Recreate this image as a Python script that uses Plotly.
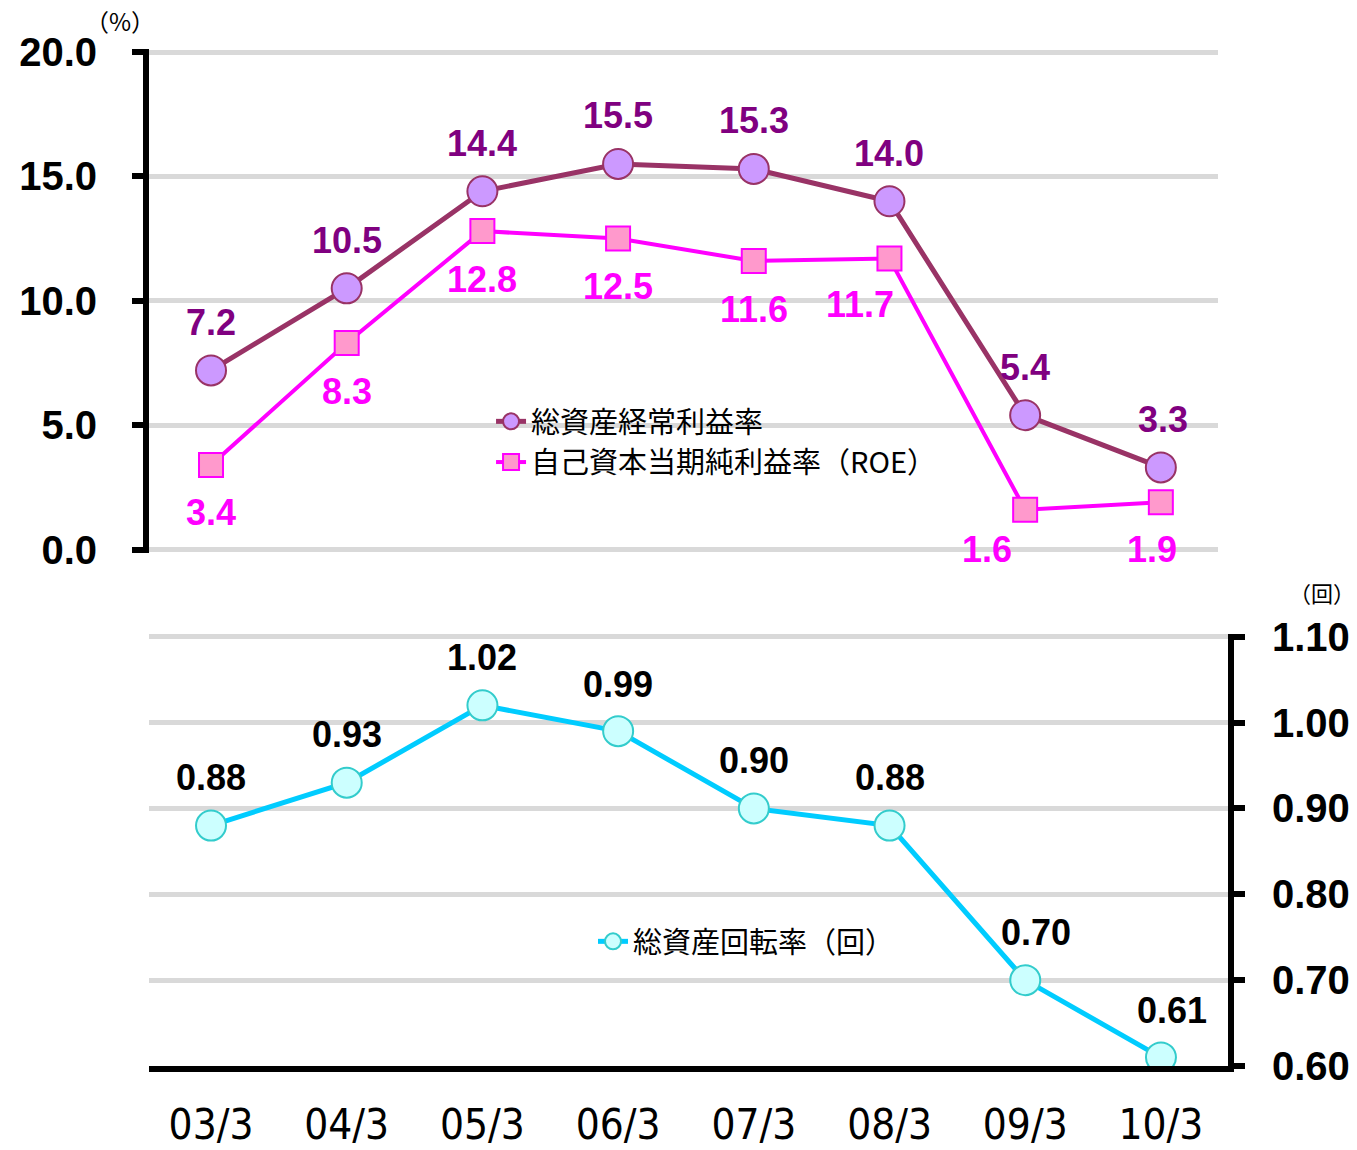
import plotly.graph_objects as go

categories = ["03/3", "04/3", "05/3", "06/3", "07/3", "08/3", "09/3", "10/3"]
roa = [7.2, 10.5, 14.4, 15.5, 15.3, 14.0, 5.4, 3.3]
roe = [3.4, 8.3, 12.8, 12.5, 11.6, 11.7, 1.6, 1.9]
turnover = [0.88, 0.93, 1.02, 0.99, 0.90, 0.88, 0.70, 0.61]
top_ticks = [0, 5, 10, 15, 20]
bottom_ticks = [0.6, 0.7, 0.8, 0.9, 1.0, 1.1]

name_roa = "総資産経常利益率"
name_roe = "自己資本当期純利益率（ROE）"
name_turn = "総資産回転率（回）"

# label offsets (styling)
roa_dx = [0, 0, 0, 0, 0, 0, 0, 2]
roa_dy = [48] * 8
roe_dx = [0, 0, 0, 0, 0, -29, -38, -9]
roe_dy = [-48, -48, -48, -48, -49, -46, -40, -47]
turn_dx = [0, 0, 0, 0, 0, 0, 11, 11]
turn_dy = [48, 48, 48, 47, 48, 48, 48, 47]

NUM = "Arial, 'Liberation Sans', sans-serif"
CJK = "'Noto Sans CJK JP', sans-serif"

fig = go.Figure()
fig.add_trace(go.Scatter(
    x=categories, y=roa, name=name_roa, mode="lines+markers",
    line=dict(color="#993366", width=5),
    marker=dict(symbol="circle", size=30, color="#cc99ff", line=dict(color="#993366", width=2)),
    xaxis="x", yaxis="y", legend="legend"))
fig.add_trace(go.Scatter(
    x=categories, y=roe, name=name_roe, mode="lines+markers",
    line=dict(color="#ff00ff", width=4),
    marker=dict(symbol="square", size=24, color="#ff99cc", line=dict(color="#ff00ff", width=2)),
    xaxis="x", yaxis="y", legend="legend"))
fig.add_trace(go.Scatter(
    x=categories, y=turnover, name=name_turn, mode="lines+markers",
    line=dict(color="#00ccff", width=5),
    marker=dict(symbol="circle", size=30, color="#ccffff", line=dict(color="#33cccc", width=2)),
    xaxis="x2", yaxis="y2", legend="legend2"))

annotations = []
for c, v, dx, dy in zip(categories, roa, roa_dx, roa_dy):
    annotations.append(dict(x=c, y=v, xref="x", yref="y", text=f"<b>{v:.1f}</b>", showarrow=False,
                            xshift=dx, yshift=dy, font=dict(family=NUM, size=36, color="#800080")))
for c, v, dx, dy in zip(categories, roe, roe_dx, roe_dy):
    annotations.append(dict(x=c, y=v, xref="x", yref="y", text=f"<b>{v:.1f}</b>", showarrow=False,
                            xshift=dx, yshift=dy, font=dict(family=NUM, size=36, color="#ff00ff")))
for c, v, dx, dy in zip(categories, turnover, turn_dx, turn_dy):
    annotations.append(dict(x=c, y=v, xref="x2", yref="y2", text=f"<b>{v:.2f}</b>", showarrow=False,
                            xshift=dx, yshift=dy, font=dict(family=NUM, size=36, color="black")))
annotations.append(dict(x=-0.0269, y=1.0285, xref="paper", yref="paper", text="（%）", showarrow=False,
                        xanchor="center", yanchor="middle",
                        font=dict(family=CJK, size=24, color="black")))
annotations.append(dict(x=1.0871, y=0.4661, xref="paper", yref="paper", text="（回）", showarrow=False,
                        xanchor="center", yanchor="middle",
                        font=dict(family=CJK, size=22, color="black")))

fig.update_layout(
    width=1357, height=1150,
    margin=dict(l=149, r=129, t=49, b=84, autoexpand=False),
    paper_bgcolor="white", plot_bgcolor="white",
    showlegend=True,
    xaxis=dict(domain=[0, 0.9907], anchor="y", range=[-0.457, 7.421], showgrid=False,
               showticklabels=False, showline=False, zeroline=False, ticks="", automargin=False),
    yaxis=dict(domain=[0.5049, 1.0], anchor="x", range=[-0.1206, 20.1206], tickvals=top_ticks,
               tickformat=".1f", showgrid=True, gridcolor="#d9d9d9", gridwidth=5,
               zeroline=False, showline=True, linecolor="black", linewidth=6,
               ticks="outside", ticklen=11, tickwidth=6, tickcolor="black",
               ticklabelstandoff=27, automargin=False,
               tickfont=dict(family=NUM, size=40, color="black", weight="bold")),
    xaxis2=dict(domain=[0, 1.0], anchor="y2", range=[-0.457, 7.494], showgrid=False,
                showline=True, linecolor="black", linewidth=6, zeroline=False, ticks="",
                ticklabelstandoff=17, automargin=False,
                tickfont=dict(family="'Liberation Sans Narrow', 'DejaVu Sans Condensed', sans-serif",
                              size=42, color="black")),
    yaxis2=dict(domain=[0, 0.4251], anchor="x2", side="right", range=[0.6, 1.1035],
                tickvals=bottom_ticks, tickformat=".2f", showgrid=True, gridcolor="#d9d9d9",
                gridwidth=5, zeroline=False, showline=True, linecolor="black", linewidth=6,
                ticks="outside", ticklen=11, tickwidth=6, tickcolor="black",
                ticklabelstandoff=19, automargin=False,
                tickfont=dict(family=NUM, size=40, color="black", weight="bold")),
    legend=dict(x=0.317, y=0.6588, xanchor="left", yanchor="top", bgcolor="rgba(0,0,0,0)",
                font=dict(family=CJK, size=29, color="black"), tracegroupgap=0,
                itemsizing="trace"),
    legend2=dict(x=0.4115, y=0.1475, xanchor="left", yanchor="top", bgcolor="rgba(0,0,0,0)",
                 font=dict(family=CJK, size=29, color="black"), itemsizing="trace"),
    annotations=annotations,
)

fig.write_html("out.html", config={"displayModeBar": False},
               post_script="document.body.style.margin='0px';")
